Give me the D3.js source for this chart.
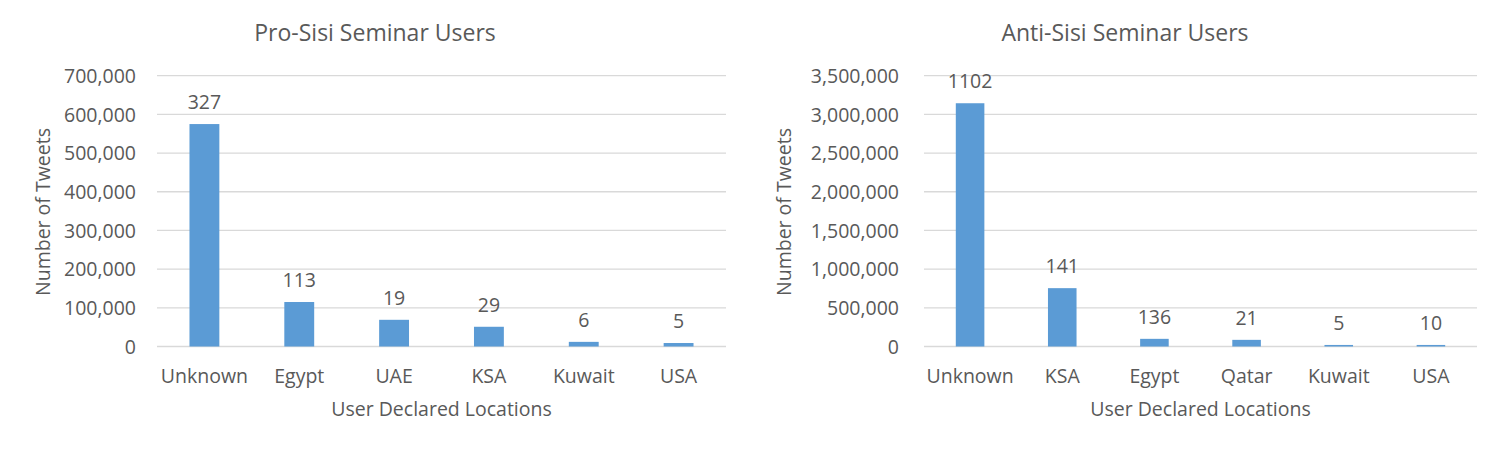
<!DOCTYPE html>
<html><head><meta charset="utf-8">
<script src="https://cdn.jsdelivr.net/npm/d3@7"></script>
<style>
body{margin:0;background:#fff;}
text{font-family:"Open Sans",sans-serif;fill:#595959;}
</style></head>
<body><svg id="c" width="1500" height="449"></svg>
<script>
const proCategories = ["Unknown","Egypt","UAE","KSA","Kuwait","USA"];
const proTweets = [575000,115000,69000,51000,12000,9000];
const proUsers = [327,113,19,29,6,5];
const proTicks = [0,100000,200000,300000,400000,500000,600000,700000];

const antiCategories = ["Unknown","KSA","Egypt","Qatar","Kuwait","USA"];
const antiTweets = [3144000,754000,99000,86000,20000,20000];
const antiUsers = [1102,141,136,21,5,10];
const antiTicks = [0,500000,1000000,1500000,2000000,2500000,3000000,3500000];

const svg = d3.select("#c");
const fmt = d3.format(",");

function chart(opt){
  const g = svg.append("g");
  const x = d3.scaleBand().domain(opt.cats).range([opt.x0,opt.x1])
    .paddingInner(opt.pad).paddingOuter(opt.pad/2);
  const y = d3.scaleLinear().domain([0,opt.max]).range([346.5,75.7]);
  // gridlines
  g.selectAll("line.grid").data(opt.ticks).join("line")
    .attr("x1",opt.x0).attr("x2",opt.x1)
    .attr("y1",d=>y(d)).attr("y2",d=>y(d))
    .attr("stroke","#d9d9d9").attr("stroke-width",1.3);
  // y axis labels
  const ya = d3.axisLeft(y).tickValues(opt.ticks).tickFormat(fmt).tickSize(0).tickPadding(0);
  const yg = g.append("g").attr("transform",`translate(${opt.x0-opt.lg},0)`).call(ya);
  yg.select(".domain").remove();
  yg.selectAll("text").attr("font-size","19.5px").attr("font-family","Open Sans").attr("fill","#595959").attr("dy","0.35em");
  // bars
  g.selectAll("rect.bar").data(opt.cats).join("rect")
    .attr("x",d=>x(d)).attr("width",x.bandwidth())
    .attr("y",(d,i)=>y(opt.vals[i]))
    .attr("height",(d,i)=>y(0)-y(opt.vals[i]))
    .attr("fill","#5b9bd5");
  // data labels
  g.selectAll("text.lbl").data(opt.cats).join("text")
    .attr("x",d=>x(d)+x.bandwidth()/2)
    .attr("y",(d,i)=>y(opt.vals[i])-15)
    .attr("text-anchor","middle").attr("font-size","19.5px")
    .text((d,i)=>opt.labels[i]);
  // x axis labels
  const xa = d3.axisBottom(x).tickSize(0).tickPadding(0);
  const xg = g.append("g").attr("transform",`translate(0,${y(0)})`).call(xa);
  xg.select(".domain").remove();
  xg.selectAll("text").attr("font-size","19.5px").attr("font-family","Open Sans").attr("fill","#595959")
    .attr("dy",null).attr("y",36);
  // titles
  g.append("text").attr("x",opt.tx).attr("y",41).attr("text-anchor","middle")
    .attr("font-size","23px").text(opt.title);
  g.append("text").attr("x",(opt.x0+opt.x1)/2).attr("y",416).attr("text-anchor","middle")
    .attr("font-size","19.5px").text("User Declared Locations");
  g.append("text").attr("transform",`translate(${opt.yx},212) rotate(-90)`)
    .attr("text-anchor","middle").attr("dy","0.35em").attr("font-size","19.5px").text("Number of Tweets");
}

chart({cats:proCategories, vals:proTweets, labels:proUsers, ticks:proTicks, max:700000,
  x0:157, x1:726, pad:0.685, lg:21, title:"Pro-Sisi Seminar Users", tx:375, yx:43});
chart({cats:antiCategories, vals:antiTweets, labels:antiUsers, ticks:antiTicks, max:3500000,
  x0:924, x1:1477, pad:0.69, lg:25, title:"Anti-Sisi Seminar Users", tx:1125, yx:784});
</script></body></html>
